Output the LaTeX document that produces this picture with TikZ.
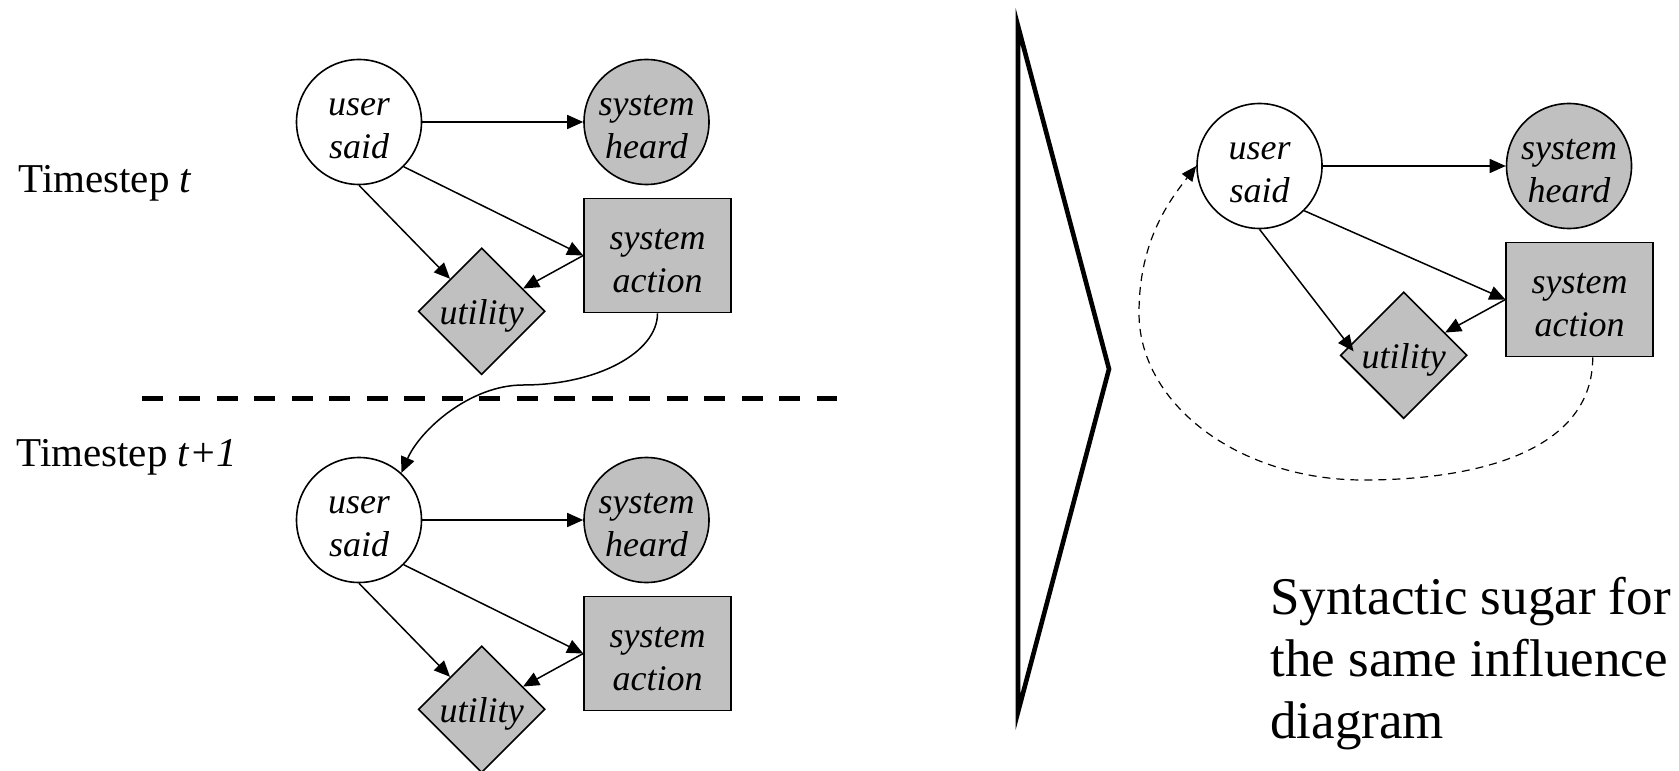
\documentclass[tikz,border=0pt]{standalone}
\usepackage{fontspec}
\setmainfont{Liberation Serif}
\usetikzlibrary{shapes.geometric, arrows.meta, calc}
\definecolor{nodegray}{RGB}{192,192,192}
% invisible strut that lowers the text block inside a shape
\newcommand{\tallline}[1]{\rule{0pt}{#1}}

\begin{document}
\begin{tikzpicture}[
  x=0.5pt, y=-0.5pt,
  nodetext/.style={draw, line width=0.8pt, inner sep=0pt, align=center,
                   font=\fontsize{18}{21.5}\selectfont\itshape},
  chance/.style={nodetext, circle, minimum size=62.5pt},
  observed/.style={chance, fill=nodegray},
  decision/.style={nodetext, rectangle, fill=nodegray,
                   minimum width=73.5pt, minimum height=57pt},
  valuenode/.style={nodetext, diamond, aspect=1, fill=nodegray,
                    minimum width=61.5pt, minimum height=61.5pt},
  link/.style={line width=0.75pt, -{Triangle[length=8pt,width=7pt]}},
  softlink/.style={line width=0.6pt, dash pattern=on 4pt off 3pt,
                   -{Triangle[length=7.5pt,width=6.5pt]}},
  steplabel/.style={anchor=base west, inner sep=0pt,
                    font=\fontsize{20.5}{24}\selectfont},
]
\useasboundingbox (0,0) rectangle (1679,770);

% ---- time slice t ----
\node[chance]    (us1) at (359,122)     {\tallline{15pt}user\\said};
\node[observed]  (sh1) at (646.5,122)   {\tallline{15pt}system\\heard};
\node[decision]  (sa1) at (657.5,255.5) {\tallline{15.5pt}system\\action};
\node[valuenode] (ut1) at (481.7,311.3) {\tallline{17.5pt}utility};

\draw[link] (us1) -- (sh1);
\draw[link] (us1.-45) -- (sa1.west);
\draw[link] (us1.south) -- (ut1);
\draw[link] (sa1.west) -- (ut1);

% ---- time slice t+1 ----
\node[chance]    (us2) at (359,520)     {\tallline{15pt}user\\said};
\node[observed]  (sh2) at (646.5,520)   {\tallline{15pt}system\\heard};
\node[decision]  (sa2) at (657.5,653.5) {\tallline{15.5pt}system\\action};
\node[valuenode] (ut2) at (481.7,709.3) {\tallline{17.5pt}utility};

\draw[link] (us2) -- (sh2);
\draw[link] (us2.-45) -- (sa2.west);
\draw[link] (us2.south) -- (ut2);
\draw[link] (sa2.west) -- (ut2);

% action at t feeds the next user turn
\draw[link] (sa1.south) .. controls (657.5,352.6) and (597,385) .. (523,385)
            .. controls (470,385) and (420,430) .. (us2.48);

% slice separator and labels
\coordinate (sepL) at (141.7,398.3);
\coordinate (sepR) at (837,398.3);
\draw[line width=2.5pt, dash pattern=on 10.5pt off 8.25pt] (sepL) -- (sepR);

\node[steplabel] (lab1) at (18,193) {Timestep \textit{t}};
\node[steplabel] (lab2) at (16,466) {Timestep \textit{t+1}};

% ---- brace-like wedge ----
\draw[line width=2.3pt] (1018,26) -- (1109,369) -- (1018,712) -- cycle;

% ---- rolled-up diagram ----
\node[chance]    (us3) at (1259.5,166)   {\tallline{15pt}user\\said};
\node[observed]  (sh3) at (1569,166)     {\tallline{15pt}system\\heard};
\node[decision]  (sa3) at (1579.7,299.5) {\tallline{15.5pt}system\\action};
\node[valuenode] (ut3) at (1403.7,355.3) {\tallline{17.5pt}utility};

\draw[link] (us3) -- (sh3);
\draw[link] (us3.-45) -- (sa3.west);
\draw[link] (us3.south) -- ($(ut3.west)+(14,-4)$);
\draw[link] (sa3.west) -- (ut3);

\draw[softlink] ($(sa3.south)+(13,0)$) .. controls (1593,450) and (1480,480) .. (1363,480)
     .. controls (1240,480) and (1139,405) .. (1139,313)
     .. controls (1139,240) and (1170,200) .. (us3.west);

\node[anchor=north west, inner sep=0pt, align=left,
      font=\fontsize{26.5}{31}\selectfont] (note) at (1270,577)
  {Syntactic sugar for\\the same influence\\diagram};
\end{tikzpicture}
\end{document}
